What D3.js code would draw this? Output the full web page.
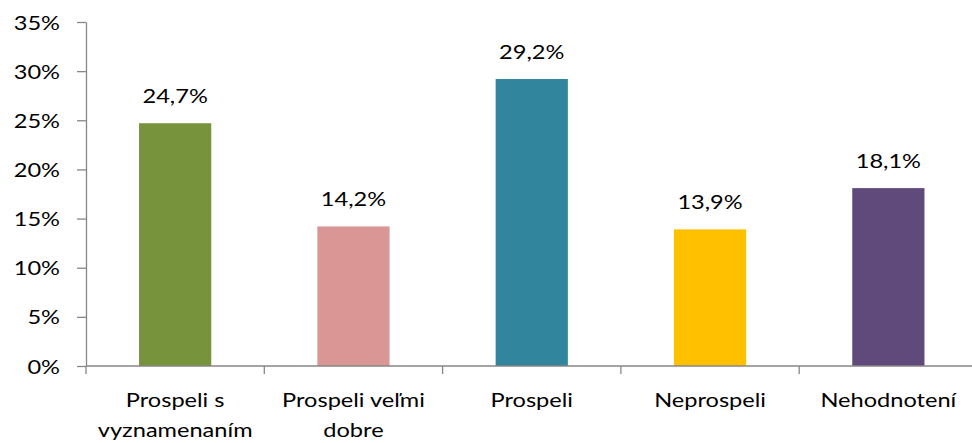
<!DOCTYPE html>
<html><head><meta charset="utf-8">
<script src="https://cdn.jsdelivr.net/npm/d3@7"></script>
<style>body{margin:0;background:#fff}svg{display:block}</style>
</head><body>
<svg id="c" width="972" height="443"></svg>
<script>
const categories = ["Prospeli s vyznamenaním", "Prospeli veľmi dobre", "Prospeli", "Neprospeli", "Nehodnotení"];
const values = [24.7, 14.2, 29.2, 13.9, 18.1];
const colors = ["#77933C", "#D99694", "#31859C", "#FFC000", "#604A7B"];
const yTicks = [0, 5, 10, 15, 20, 25, 30, 35];

(function () {
const FONT = "Lato, 'Open Sans', sans-serif";
const FS = 19.5, SX = 1.21;
const svg = d3.select("#c");
const mLeft = 86, mRight = 977.5, mTop = 22, mBottom = 366;

const x = d3.scaleBand().domain(categories).range([mLeft, mRight]).paddingInner(0.595).paddingOuter(0.2975);
const y = d3.scaleLinear().domain([0, 35]).range([mBottom, mTop]);
const fmt = v => v.toFixed(1).replace(".", ",") + "%";
const styleText = s => s.attr("font-family", FONT).attr("font-size", FS).attr("fill", "#000");

// y axis
const ya = svg.append("g").attr("transform", `translate(${mLeft},0)`)
  .call(d3.axisLeft(y).tickValues(yTicks).tickFormat(d => d + "%").tickSize(9).tickSizeOuter(0));
ya.select(".domain").attr("stroke", "#868686").attr("stroke-width", 1.3);
ya.selectAll(".tick line").attr("stroke", "#868686").attr("stroke-width", 1.3);
ya.selectAll(".tick text").call(styleText).attr("x", 0).attr("dy", "0.36em")
  .attr("text-anchor", "end").attr("transform", `translate(-26,0) scale(${SX},1)`);

// bars
svg.append("g").selectAll("rect").data(values).join("rect")
  .attr("x", (d, i) => x(categories[i]))
  .attr("width", x.bandwidth())
  .attr("y", d => y(d))
  .attr("height", d => mBottom - y(d))
  .attr("fill", (d, i) => colors[i]);

// value labels
svg.append("g").selectAll("text").data(values).join("text")
  .call(styleText)
  .attr("text-anchor", "middle")
  .attr("transform", (d, i) => `translate(${x(categories[i]) + x.bandwidth() / 2},${y(d) - 20}) scale(${SX},1)`)
  .text(d => fmt(d));

// x axis
const xTickScale = d3.scaleLinear().domain([0, categories.length]).range([mLeft, mRight]);
const xa = svg.append("g").attr("transform", `translate(0,${mBottom})`);
xa.append("line").attr("x1", mLeft).attr("x2", 972).attr("stroke", "#868686").attr("stroke-width", 1.3);
xa.selectAll("line.t").data(d3.range(categories.length)).join("line").attr("class", "t")
  .attr("x1", d => xTickScale(d)).attr("x2", d => xTickScale(d)).attr("y1", 0).attr("y2", 8)
  .attr("stroke", "#868686").attr("stroke-width", 1.3);

const maxW = 150;
categories.forEach((c, i) => {
  const cx = x(c) + x.bandwidth() / 2;
  const words = c.split(" ");
  let lines = [], cur = [];
  const probe = xa.append("text").call(styleText);
  words.forEach(w => {
    const test = cur.concat([w]).join(" ");
    probe.text(test);
    if (probe.node().getComputedTextLength() > maxW && cur.length) { lines.push(cur.join(" ")); cur = [w]; }
    else cur.push(w);
  });
  lines.push(cur.join(" "));
  probe.remove();
  lines.forEach((l, j) => xa.append("text").call(styleText).attr("text-anchor", "middle")
    .attr("transform", `translate(${cx},${41 + j * 30}) scale(${SX},1)`).text(l));
});
})();
</script>
</body></html>
